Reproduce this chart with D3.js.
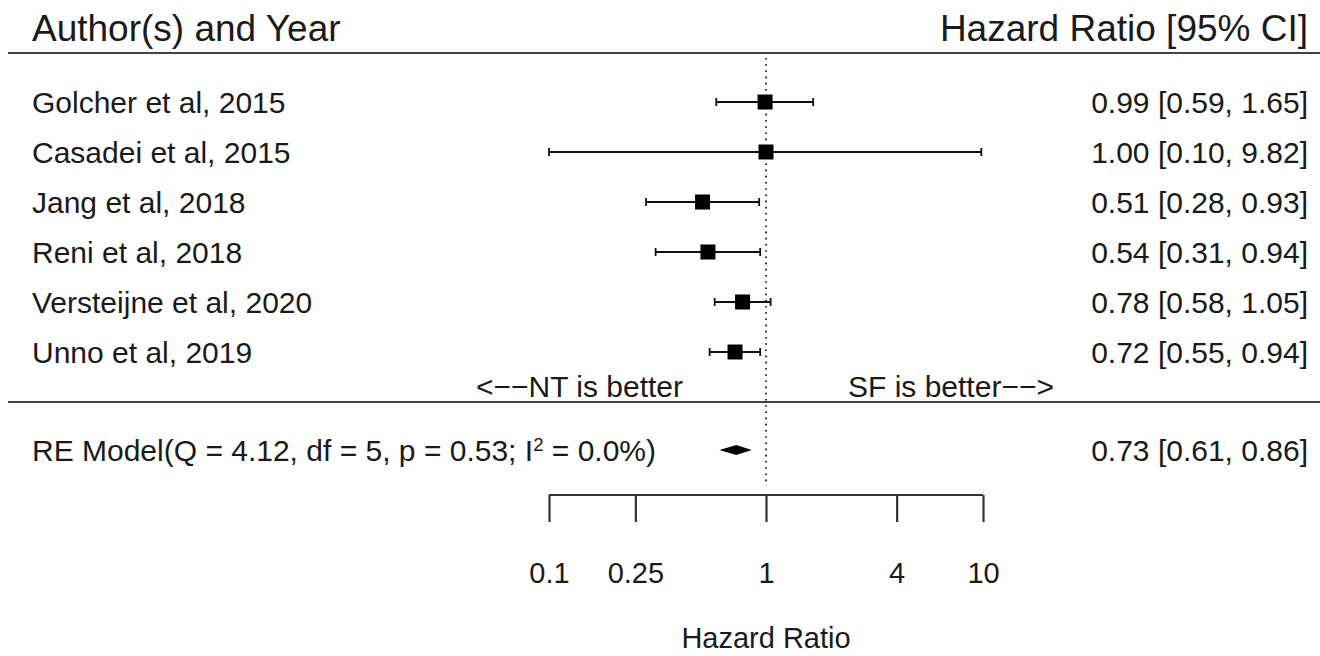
<!DOCTYPE html>
<html>
<head>
<meta charset="utf-8">
<script src="https://cdn.jsdelivr.net/npm/d3@7/dist/d3.min.js"></script>
<style>
  html, body { margin: 0; padding: 0; background: #fff; }
  svg { display: block; }
  text { font-family: "Liberation Sans", Arial, sans-serif; fill: #1a1a1a; }
</style>
</head>
<body>
<svg id="chart" width="1320" height="656"></svg>
<script>
// ---- data ----
const studies = ["Golcher et al, 2015", "Casadei et al, 2015", "Jang et al, 2018",
                 "Reni et al, 2018", "Versteijne et al, 2020", "Unno et al, 2019"];
const hr    = [0.99, 1.00, 0.51, 0.54, 0.78, 0.72];
const lower = [0.59, 0.10, 0.28, 0.31, 0.58, 0.55];
const upper = [1.65, 9.82, 0.93, 0.94, 1.05, 0.94];
const pooled = { label: "RE Model", hr: 0.73, lower: 0.61, upper: 0.86,
                 Q: "4.12", df: "5", p: "0.53", I2: "0.0" };
const tickValues = [0.1, 0.25, 1, 4, 10];
const tickLabels = ["0.1", "0.25", "1", "4", "10"];

// ---- layout ----
const W = 1320, H = 656;
const svg = d3.select("#chart");
const x = d3.scaleLog().domain([0.1, 10]).range([549, 983]);
const y = d3.scaleBand().domain(studies).range([77, 377]).paddingInner(0).paddingOuter(0);
const yc = d => y(d) + y.bandwidth() / 2;
const yPooled = 450;
const fs = 30;
const hfs = 37;
const fmt = d3.format(".2f");

// headers
svg.append("text").attr("x", 32).attr("y", 41).attr("font-size", hfs).text("Author(s) and Year");
svg.append("text").attr("x", 1308).attr("y", 41).attr("font-size", hfs).attr("text-anchor", "end").text("Hazard Ratio [95% CI]");

// horizontal rules
svg.append("line").attr("x1", 8).attr("x2", W).attr("y1", 53).attr("y2", 53)
  .attr("stroke", "#444").attr("stroke-width", 2);
svg.append("line").attr("x1", 8).attr("x2", W).attr("y1", 402).attr("y2", 402)
  .attr("stroke", "#444").attr("stroke-width", 2);

// reference line at HR=1
svg.append("line").attr("x1", x(1)).attr("x2", x(1)).attr("y1", 58).attr("y2", 486)
  .attr("stroke", "#333").attr("stroke-width", 2).attr("stroke-dasharray", "1.6,4.6");

// study rows
const rows = svg.append("g").selectAll("g").data(studies).join("g");
rows.append("text").attr("x", 32).attr("y", d => yc(d)).attr("dy", "0.36em")
  .attr("font-size", fs).text(d => d);
rows.append("text").attr("x", 1308).attr("y", d => yc(d)).attr("dy", "0.36em")
  .attr("text-anchor", "end").attr("font-size", fs)
  .text((d, i) => `${fmt(hr[i])} [${fmt(lower[i])}, ${fmt(upper[i])}]`);
rows.append("line").attr("x1", (d, i) => x(lower[i])).attr("x2", (d, i) => x(upper[i]))
  .attr("y1", d => yc(d)).attr("y2", d => yc(d)).attr("stroke", "#111").attr("stroke-width", 1.8);
rows.append("line").attr("x1", (d, i) => x(lower[i])).attr("x2", (d, i) => x(lower[i]))
  .attr("y1", d => yc(d) - 4).attr("y2", d => yc(d) + 4).attr("stroke", "#111").attr("stroke-width", 1.8);
rows.append("line").attr("x1", (d, i) => x(upper[i])).attr("x2", (d, i) => x(upper[i]))
  .attr("y1", d => yc(d) - 4).attr("y2", d => yc(d) + 4).attr("stroke", "#111").attr("stroke-width", 1.8);
const sq = 15;
rows.append("rect").attr("x", (d, i) => x(hr[i]) - sq / 2).attr("y", d => yc(d) - sq / 2)
  .attr("width", sq).attr("height", sq).attr("fill", "#000");

// direction labels
svg.append("text").attr("x", 683).attr("y", 386).attr("dy", "0.36em").attr("text-anchor", "end")
  .attr("font-size", fs).text("<\u2212\u2212NT is better");
svg.append("text").attr("x", 848).attr("y", 386).attr("dy", "0.36em")
  .attr("font-size", fs).text("SF is better\u2212\u2212>");

// pooled estimate
const pl = svg.append("text").attr("x", 32).attr("y", yPooled).attr("dy", "0.36em").attr("font-size", fs);
pl.append("tspan").text(`${pooled.label}(Q = ${pooled.Q}, df = ${pooled.df}, p = ${pooled.p}; I`);
pl.append("tspan").attr("baseline-shift", "super").attr("font-size", fs * 0.62).text("2");
pl.append("tspan").text(` = ${pooled.I2}%)`);
svg.append("text").attr("x", 1308).attr("y", yPooled).attr("dy", "0.36em").attr("text-anchor", "end")
  .attr("font-size", fs).text(`${fmt(pooled.hr)} [${fmt(pooled.lower)}, ${fmt(pooled.upper)}]`);
const dh = 5;
svg.append("path")
  .attr("d", `M${x(pooled.lower)},${yPooled} L${x(pooled.hr)},${yPooled - dh} L${x(pooled.upper)},${yPooled} L${x(pooled.hr)},${yPooled + dh} Z`)
  .attr("fill", "#000");

// axis
const axisG = svg.append("g").attr("transform", "translate(0,495)")
  .call(d3.axisBottom(x).tickValues(tickValues).tickFormat((d, i) => tickLabels[i])
    .tickSizeOuter(0).tickSizeInner(27).tickPadding(40));
axisG.select(".domain").attr("stroke", "#333").attr("stroke-width", 2.2)
  .attr("d", `M${x(0.1)},0H${x(10)}`);
axisG.selectAll(".tick line").attr("stroke", "#333").attr("stroke-width", 2.2);
axisG.selectAll(".tick text").attr("font-size", fs - 1).attr("fill", "#1a1a1a")
  .attr("font-family", "Liberation Sans, Arial, sans-serif");

svg.append("text").attr("x", x(1)).attr("y", 638).attr("dy", "0.36em").attr("text-anchor", "middle")
  .attr("font-size", fs - 1).text("Hazard Ratio");
</script>
</body>
</html>
